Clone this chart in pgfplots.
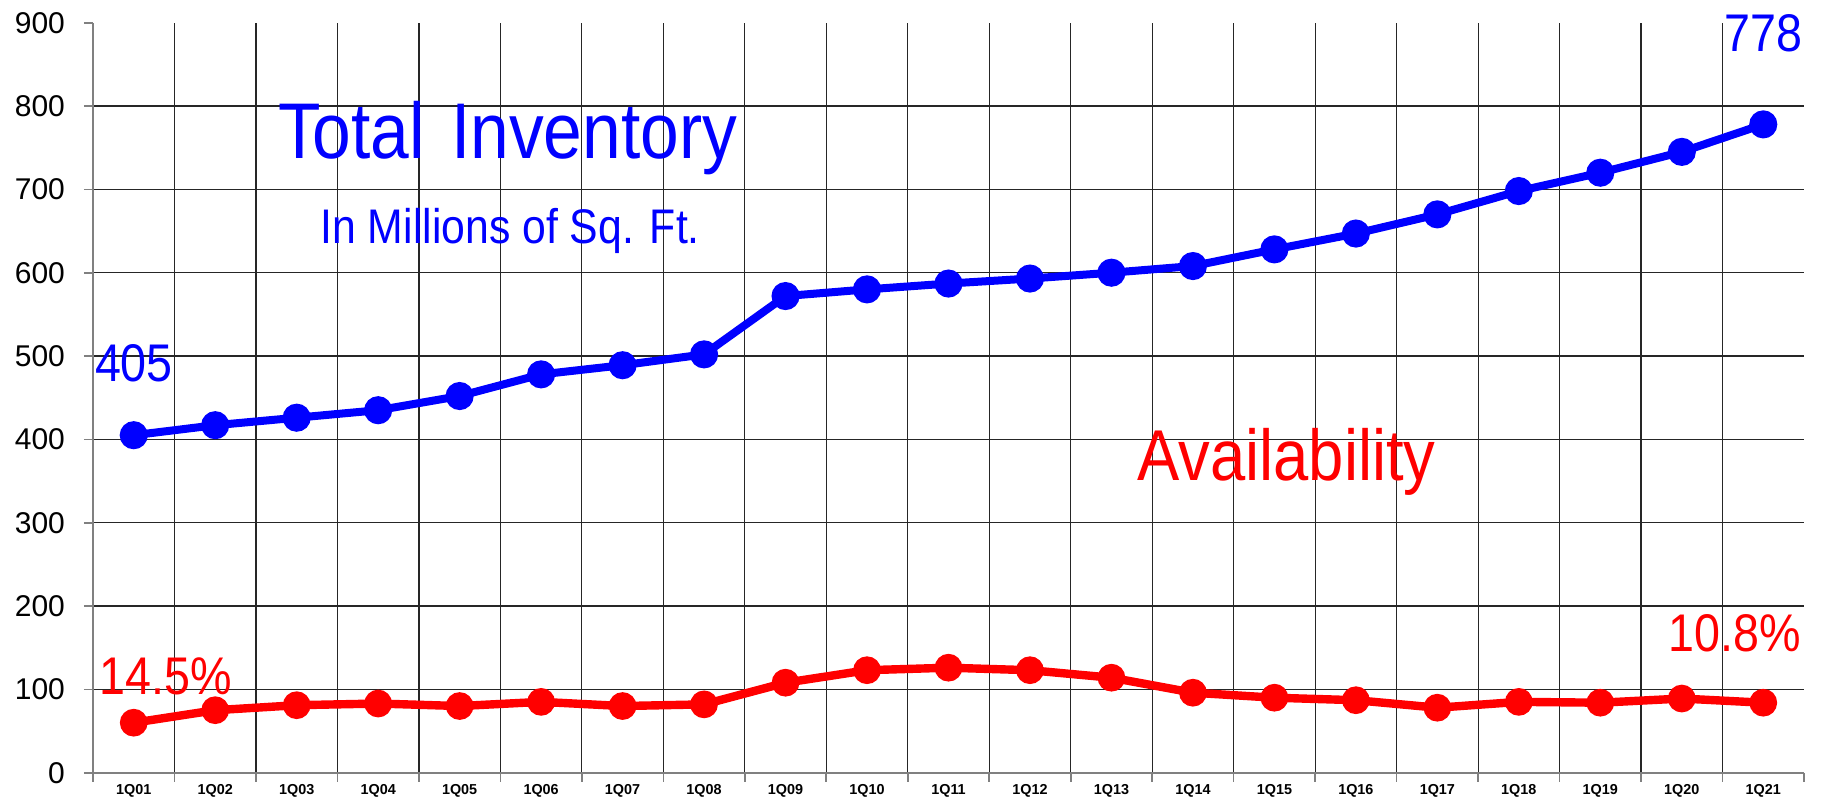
\documentclass[border=0pt]{standalone}
\usepackage{fontspec}
\setmainfont{Liberation Sans}
\newfontfamily\narrow[FakeStretch=0.88]{Liberation Sans}
\usepackage{pgfplots}
\pgfplotsset{compat=1.18}
\definecolor{pblue}{RGB}{0,0,255}
\definecolor{pred}{RGB}{255,0,0}
\begin{document}
\begin{tikzpicture}
\useasboundingbox (-46.5pt,-13.15pt) rectangle (866.5pt,386.35pt);
\begin{axis}[
  at={(0pt,0pt)}, anchor=south west,
  scale only axis, width=855.5pt, height=375pt,
  xmin=0.5, xmax=21.5, ymin=0, ymax=900,
  axis x line*=bottom, axis y line*=left,
  /pgf/number format/assume math mode=true,
  xtick={0.5,1.5,...,20.5},
  xticklabels={1Q01,1Q02,1Q03,1Q04,1Q05,1Q06,1Q07,1Q08,1Q09,1Q10,1Q11,1Q12,1Q13,1Q14,1Q15,1Q16,1Q17,1Q18,1Q19,1Q20,1Q21},
  x tick label style={xshift=20.37pt, font=\bfseries\fontsize{7.2}{8}\selectfont, anchor=north, yshift=2pt},
  extra x ticks={21.5}, extra x tick labels={}, extra x tick style={grid=none},
  ytick={0,100,...,800},
  extra y ticks={900}, extra y tick style={grid=none},
  y tick label style={font=\fontsize{15}{16}\selectfont, xshift=-6pt},
  xmajorgrids, ymajorgrids,
  grid style={black!85, line width=0.6pt},
  tick align=outside, major tick length=4.5pt,
  tick style={gray, line width=0.8pt},
  axis line style={gray, line width=1pt},
  clip=false,
]
\addplot[pblue, line width=4pt, mark=*, mark size=5pt, mark options={solid}] coordinates {
(1,405) (2,417) (3,426) (4,435) (5,452) (6,478) (7,489) (8,502) (9,572) (10,580)
(11,587) (12,593) (13,600) (14,608) (15,628) (16,647) (17,670) (18,698) (19,720) (20,745) (21,778)
};
\addplot[pred, line width=4.2pt, mark=*, mark size=4.8pt, mark options={solid}] coordinates {
(1,60) (2,75) (3,81) (4,83) (5,80) (6,85) (7,80) (8,82) (9,108) (10,123)
(11,126) (12,123) (13,114) (14,96) (15,90) (16,87) (17,78) (18,85) (19,84) (20,89) (21,84)
};
\node[pblue, anchor=base, font=\narrow\fontsize{39.5}{41}\selectfont, inner sep=0pt] at (axis cs:5.59,737.6) {Total\,\,Inventory};
\node[pblue, anchor=base, font=\narrow\fontsize{24.3}{26}\selectfont, inner sep=0pt] at (axis cs:5.62,635.6) {In Millions of Sq. Ft.};
\node[pred, anchor=base, font=\narrow\fontsize{36}{38}\selectfont, inner sep=0pt] at (axis cs:15.15,351) {Availability};
\node[pblue, anchor=base west, font=\narrow\fontsize{26.5}{28}\selectfont, inner sep=0pt] at (axis cs:0.52,469) {405};
\node[pblue, anchor=base east, font=\narrow\fontsize{26.5}{28}\selectfont, inner sep=0pt] at (axis cs:21.49,866) {778};
\node[pred, anchor=base west, font=\narrow\fontsize{26.5}{28}\selectfont, inner sep=0pt] at (axis cs:0.574,94.4) {14.5\%};
\node[pred, anchor=base east, font=\narrow\fontsize{26.5}{28}\selectfont, inner sep=0pt] at (axis cs:21.47,146) {10.8\%};
\end{axis}
\end{tikzpicture}
\end{document}
